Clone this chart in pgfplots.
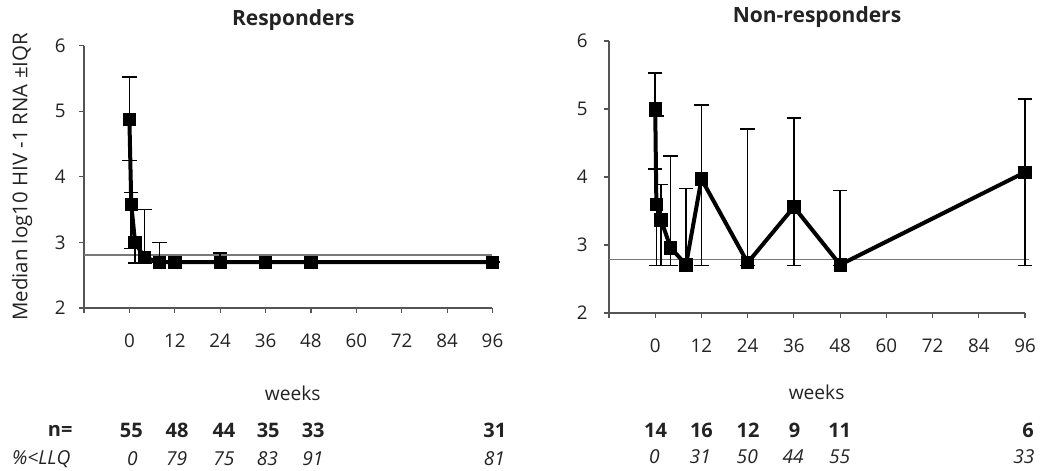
\documentclass[border=0pt]{standalone}
\usepackage{pgfplots}
\pgfplotsset{compat=1.18}
\usepackage{pgfplotstable}
\usepackage{fontspec}
\setmainfont{Open Sans}
\definecolor{axgray}{RGB}{85,85,85}
\definecolor{refgray}{RGB}{120,120,120}
\definecolor{txt}{RGB}{35,35,35}

% columns: week, median, upper quartile, lower quartile
\pgfplotstableread{
x    y     up    lo
0    4.88  5.52  4.25
0.5  3.58  3.76  2.91
1.5  3.00  3.00  2.69
4    2.77  3.50  2.69
8    2.70  3.00  2.70
12   2.70  2.70  2.70
24   2.70  2.84  2.70
36   2.70  2.70  2.70
48   2.70  2.70  2.70
96   2.70  2.70  2.70
}\resp
\pgfplotstableread{
x    y     up    lo
0    5.00  5.53  4.12
0.3  3.60  4.90  2.70
1.5  3.37  3.89  2.70
4    2.96  4.31  2.70
8    2.71  3.83  2.70
12   3.97  5.06  2.70
24   2.74  4.71  2.70
36   3.56  4.87  2.70
48   2.71  3.80  2.70
96   4.07  5.15  2.70
}\nonresp

\tikzset{
  nrow/.style={font=\fontsize{10}{11}\selectfont\bfseries, text=txt},
  prow/.style={font=\fontsize{9.6}{11}\selectfont\itshape, text=txt},
}
\pgfplotsset{
  myax/.style={
    scale only axis, anchor=south west,
    xmin=-12, xmax=96, ymin=2, ymax=6,
    axis lines*=left,
    axis line style={axgray, line width=0.6pt},
    every tick/.style={axgray, line width=0.6pt},
    tick align=outside, major tick length=2.6pt,
    xtick={-12,0,12,...,96},
    xticklabels={,0,12,24,36,48,60,72,84,96},
    ytick={2,3,4,5,6},
    ticklabel style={font=\fontsize{9.4}{10}\selectfont, text=txt},
    /pgf/number format/assume math mode=true,
    xticklabel style={yshift=-7pt},
    clip=false,
  },
  dataplot/.style={
    black, line width=2pt, mark=square*, mark size=3.1pt,
    mark options={solid, line width=0.4pt},
    error bars/.cd, y dir=both, y explicit,
      error bar style={black, line width=0.8pt},
      error mark options={rotate=90, mark size=3.6pt, line width=0.8pt, black},
  },
}

\begin{document}
\begin{tikzpicture}
\useasboundingbox (0,0) rectangle (522.5pt,-235.5pt);

% ---------------- Responders ----------------
\begin{axis}[myax, at={(42pt,-154pt)}, width=204.25pt, height=131.15pt,
  yticklabel style={xshift=-3pt}]
\addplot[refgray, line width=0.7pt, forget plot] coordinates {(-12,2.81) (96,2.81)};
\addplot[dataplot] table[x=x, y=y,
   y error plus expr=\thisrow{up}-\thisrow{y},
   y error minus expr=\thisrow{y}-\thisrow{lo}] {\resp};
\node[font=\fontsize{10.5}{12}\selectfont\bfseries, text=txt] at (rel axis cs:0.5,1) [xshift=2.5pt, yshift=13pt] {Responders};
\node[xshift=-31pt, rotate=90, font=\fontsize{10.2}{11}\selectfont, text=txt] at (rel axis cs:0,0.5) {Median log10 HIV -1 RNA ±IQR};
\node[font=\fontsize{9.6}{11}\selectfont, text=txt] at (axis cs:43.2,2) [yshift=-42.5pt] {weeks};
\node[nrow] at (axis cs:-18.3,2) [yshift=-61.3pt] {n=};
\node[nrow] at (axis cs:0.5,2) [yshift=-61.3pt] {55};
\node[nrow] at (axis cs:12.6,2) [yshift=-61.3pt] {48};
\node[nrow] at (axis cs:25.0,2) [yshift=-61.3pt] {44};
\node[nrow] at (axis cs:36.7,2) [yshift=-61.3pt] {35};
\node[nrow] at (axis cs:48.6,2) [yshift=-61.3pt] {33};
\node[nrow] at (axis cs:96.6,2) [yshift=-61.3pt] {31};
\node[prow] at (axis cs:-23.3,2) [yshift=-75.5pt] {\%<LLQ};
\node[prow] at (axis cs:0.8,2) [yshift=-75.5pt] {0};
\node[prow] at (axis cs:12.5,2) [yshift=-75.5pt] {79};
\node[prow] at (axis cs:25.0,2) [yshift=-75.5pt] {75};
\node[prow] at (axis cs:36.5,2) [yshift=-75.5pt] {83};
\node[prow] at (axis cs:48.5,2) [yshift=-75.5pt] {91};
\node[prow] at (axis cs:96.5,2) [yshift=-75.5pt] {81};
\end{axis}

% ---------------- Non-responders ----------------
\begin{axis}[myax, at={(304.5pt,-156.5pt)}, width=208pt, height=136pt,
  yticklabel style={xshift=-4.5pt}]
\addplot[refgray, line width=0.7pt, forget plot] coordinates {(-12,2.79) (97,2.79)};
\addplot[dataplot] table[x=x, y=y,
   y error plus expr=\thisrow{up}-\thisrow{y},
   y error minus expr=\thisrow{y}-\thisrow{lo}] {\nonresp};
\node[font=\fontsize{10.5}{12}\selectfont\bfseries, text=txt] at (rel axis cs:0.5,1) [yshift=12pt] {Non-responders};
\node[font=\fontsize{9.6}{11}\selectfont, text=txt] at (axis cs:41.9,2) [yshift=-39.5pt] {weeks};
\node[nrow] at (axis cs:0.1,2) [yshift=-58.5pt] {14};
\node[nrow] at (axis cs:12.0,2) [yshift=-58.5pt] {16};
\node[nrow] at (axis cs:24.1,2) [yshift=-58.5pt] {12};
\node[nrow] at (axis cs:36.2,2) [yshift=-58.5pt] {9};
\node[nrow] at (axis cs:47.9,2) [yshift=-58.5pt] {11};
\node[nrow] at (axis cs:96.8,2) [yshift=-58.5pt] {6};
\node[prow] at (axis cs:-0.2,2) [yshift=-72pt] {0};
\node[prow] at (axis cs:11.7,2) [yshift=-72pt] {31};
\node[prow] at (axis cs:23.9,2) [yshift=-72pt] {50};
\node[prow] at (axis cs:35.8,2) [yshift=-72pt] {44};
\node[prow] at (axis cs:47.9,2) [yshift=-72pt] {55};
\node[prow] at (axis cs:95.7,2) [yshift=-72pt] {33};
\end{axis}
\end{tikzpicture}
\end{document}
